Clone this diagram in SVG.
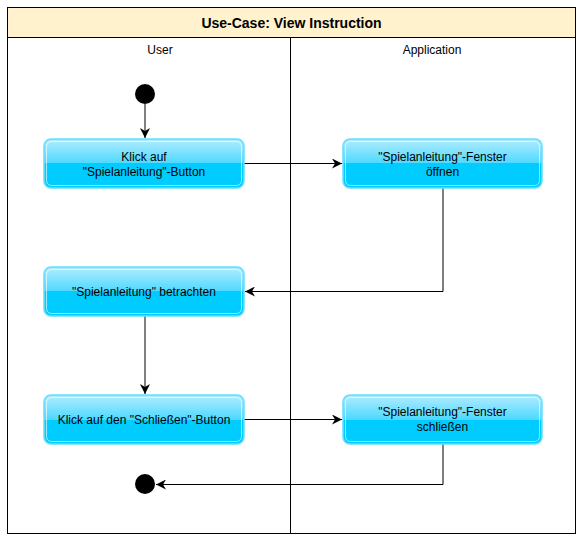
<svg xmlns="http://www.w3.org/2000/svg" width="585" height="543" viewBox="0 0 585 543">
<defs>
<linearGradient id="glass" x1="0" y1="0" x2="0" y2="1">
<stop offset="0" stop-color="#b3ecff"/>
<stop offset="0.5" stop-color="#4dd9ff"/>
<stop offset="0.5" stop-color="#00ccff"/>
<stop offset="1" stop-color="#00ccff"/>
</linearGradient>
<marker id="arr" viewBox="0 0 10 10" refX="10" refY="5" markerWidth="10" markerHeight="10" markerUnits="userSpaceOnUse" orient="auto">
<path d="M0,0 L10,5 L0,10 L3,5 Z" fill="#000"/>
</marker>
<style>
.lbl{font-family:"Liberation Sans",Arial,sans-serif;font-size:12px;fill:#000;text-anchor:middle}
.box{fill:url(#glass);stroke:#66ddff;stroke-width:1.5}
.inner{fill:none;stroke:#ffffff;stroke-opacity:0.6;stroke-width:1}
.edge{fill:none;stroke:#000;stroke-width:1;marker-end:url(#arr)}
</style>
</defs>
<g id="frame">
<rect x="7.5" y="7.5" width="568" height="526" fill="#ffffff" stroke="#000" stroke-width="1"/>
<rect x="7.5" y="7.5" width="568" height="30" fill="#fff2cc" stroke="#000" stroke-width="1"/>
<line x1="290.5" y1="37.5" x2="290.5" y2="533.5" stroke="#000" stroke-width="1"/>
<text x="291.5" y="28" style="font-family:'Liberation Sans',Arial,sans-serif;font-size:14px;font-weight:bold;text-anchor:middle">Use-Case: View Instruction</text>
<text class="lbl" x="160" y="54">User</text>
<text class="lbl" x="432" y="54">Application</text>
</g>
<g id="connectors">
<path class="edge" d="M145,104 L145,138"/>
<path class="edge" d="M244,163.5 L342,163.5"/>
<path class="edge" d="M443,188 L443,291.5 L245,291.5"/>
<path class="edge" d="M145,316 L145,394"/>
<path class="edge" d="M244,419.5 L342,419.5"/>
<path class="edge" d="M443,444 L443,484.5 L156,484.5"/>
</g>
<g id="start"><circle cx="145" cy="94" r="10" fill="#000"/></g>
<g id="n1">
<rect class="box" x="44" y="139" width="200" height="49" rx="7"/>
<rect class="inner" x="46.5" y="141.5" width="195" height="44" rx="5"/>
<text class="lbl" x="144" y="161">Klick auf</text>
<text class="lbl" x="144" y="176">"Spielanleitung"-Button</text>
</g>
<g id="n2">
<rect class="box" x="343" y="139" width="199" height="49" rx="7"/>
<rect class="inner" x="345.5" y="141.5" width="194" height="44" rx="5"/>
<text class="lbl" x="442.5" y="161">"Spielanleitung"-Fenster</text>
<text class="lbl" x="442.5" y="176">öffnen</text>
</g>
<g id="n3">
<rect class="box" x="44" y="267" width="200" height="49" rx="7"/>
<rect class="inner" x="46.5" y="269.5" width="195" height="44" rx="5"/>
<text class="lbl" x="144" y="296">"Spielanleitung" betrachten</text>
</g>
<g id="n4">
<rect class="box" x="44" y="395" width="200" height="49" rx="7"/>
<rect class="inner" x="46.5" y="397.5" width="195" height="44" rx="5"/>
<text class="lbl" x="144" y="424">Klick auf den "Schließen"-Button</text>
</g>
<g id="n5">
<rect class="box" x="343" y="395" width="199" height="49" rx="7"/>
<rect class="inner" x="345.5" y="397.5" width="194" height="44" rx="5"/>
<text class="lbl" x="442.5" y="416">"Spielanleitung"-Fenster</text>
<text class="lbl" x="442.5" y="431">schließen</text>
</g>
<g id="end"><circle cx="145" cy="484" r="10" fill="#000"/></g>
</svg>
